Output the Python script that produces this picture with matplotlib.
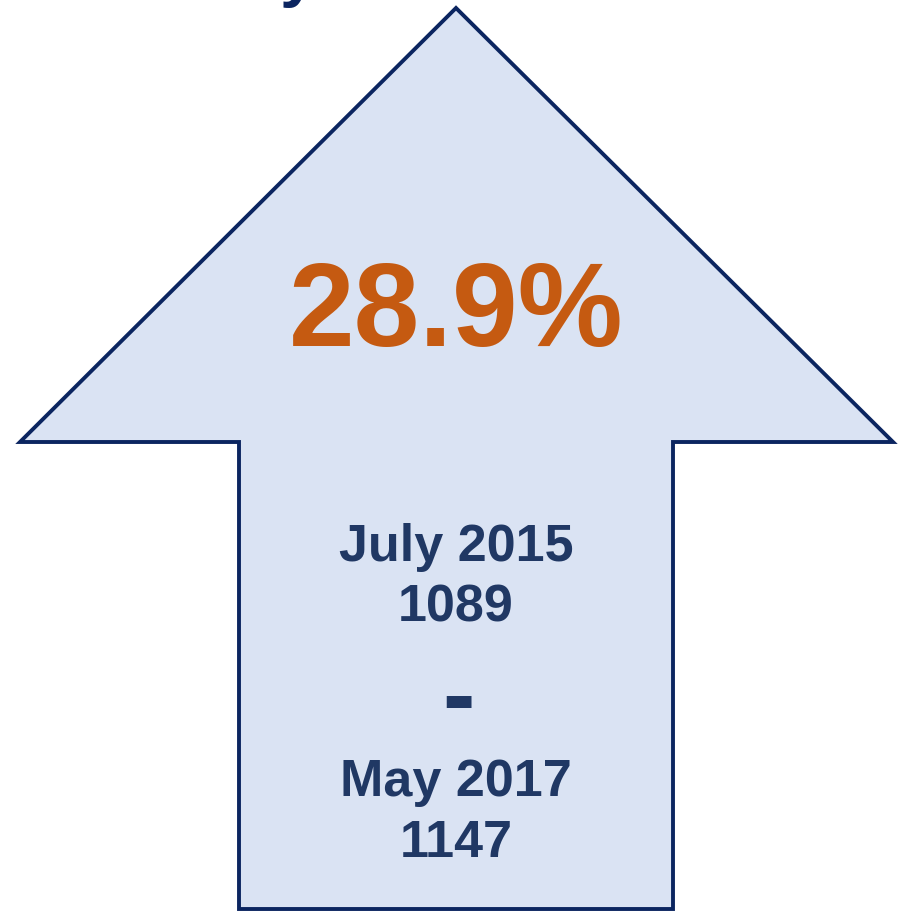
import matplotlib
matplotlib.use("Agg")
import matplotlib.pyplot as plt
from matplotlib.patches import Polygon

# values shown on the graphic
change_label = "28.9%"
periods = ["July 2015", "May 2017"]
counts = [1089, 1147]

W, H = 902, 911
NAVY = "#0b2560"
FILL = "#dae3f3"
TEXT = "#203864"
ORANGE = "#c55a11"
FONT = ["Liberation Sans", "DejaVu Sans"]

fig = plt.figure(figsize=(W / 100, H / 100), dpi=100)
ax = fig.add_axes([0, 0, 1, 1])
ax.set_xlim(0, W)
ax.set_ylim(H, 0)
ax.axis("off")

# up arrow shape (pixel space)
cx = 456
arrow = [
    (cx, 8), (893, 442), (673, 442), (673, 909),
    (239, 909), (239, 442), (20, 442),
]
ax.add_patch(Polygon(arrow, closed=True, facecolor=FILL, edgecolor=NAVY,
                     linewidth=2.8, joinstyle="miter"))

# cut-off title fragment at the very top (only the tail of a "y" shows)
ax.text(298, -6, "y", ha="center", va="baseline", fontsize=48,
        fontweight="bold", color=NAVY, family=FONT, clip_on=False)

ax.text(cx, 346, change_label, ha="center", va="baseline", fontsize=85,
        fontweight="bold", color=ORANGE, family=FONT)

size = 37.5
ax.text(cx, 561, periods[0], ha="center", va="baseline", fontsize=size,
        fontweight="bold", color=TEXT, family=FONT)
ax.text(cx, 621, str(counts[0]), ha="center", va="baseline", fontsize=size,
        fontweight="bold", color=TEXT, family=FONT)

ax.text(cx + 2, 727, "-", ha="center", va="baseline", fontsize=70,
        fontweight="bold", color=TEXT, family=FONT)

ax.text(cx, 796, periods[1], ha="center", va="baseline", fontsize=size,
        fontweight="bold", color=TEXT, family=FONT)
ax.text(cx, 857, str(counts[1]), ha="center", va="baseline", fontsize=size,
        fontweight="bold", color=TEXT, family=FONT)

fig.savefig("out.png", dpi=100, facecolor="white")
